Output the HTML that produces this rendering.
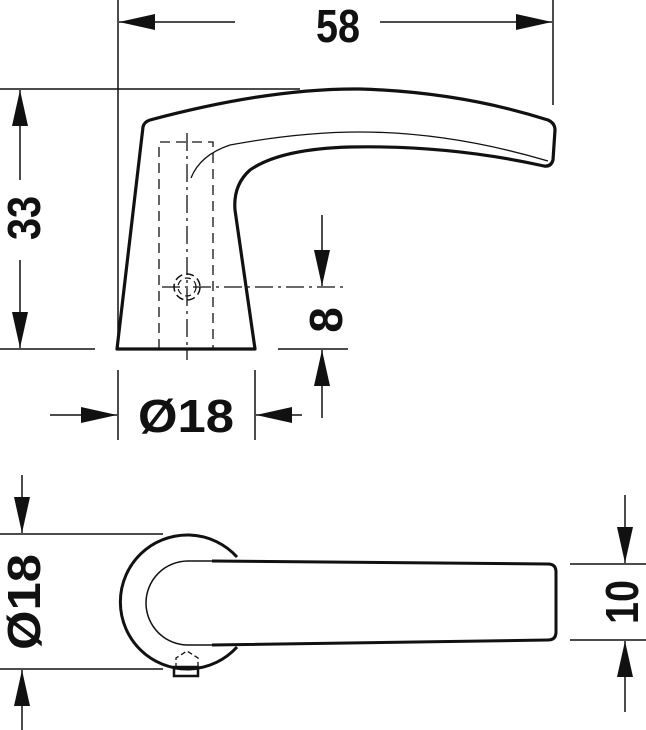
<!DOCTYPE html>
<html><head><meta charset="utf-8"><style>html,body{margin:0;padding:0;background:#fff}svg{display:block}</style></head><body>
<svg width="646" height="730" viewBox="0 0 646 730" xmlns="http://www.w3.org/2000/svg">
<defs>
<marker id="a" markerWidth="36" markerHeight="16" refX="36" refY="8" orient="auto" markerUnits="userSpaceOnUse"><path d="M0,0 L36,8 L0,16 Z" fill="#111"/></marker>
</defs>
<g fill="none" stroke="#111">
<!-- 58 dim -->
<line x1="118" y1="0" x2="118" y2="349" stroke-width="1.5"/>
<line x1="553" y1="0" x2="553" y2="105" stroke-width="1.5"/>
<line x1="235" y1="22" x2="119" y2="22" stroke-width="1.5" marker-end="url(#a)"/>
<line x1="380" y1="22" x2="552" y2="22" stroke-width="1.5" marker-end="url(#a)"/>
<!-- 33 dim -->
<line x1="0" y1="89" x2="300" y2="89" stroke-width="1.5"/>
<line x1="0" y1="349" x2="95" y2="349" stroke-width="1.5"/>
<line x1="20" y1="180" x2="20" y2="90" stroke-width="1.5" marker-end="url(#a)"/>
<line x1="20" y1="260" x2="20" y2="348" stroke-width="1.5" marker-end="url(#a)"/>
<!-- handle top view -->
<path d="M117,349 L143,127 Q144,122 150,120 Q270,88 360,89 Q460,92 548,120 Q555,123 555,130 L553,160 Q551,167 544,166 Q450,145 350,147 Q280,149 250,170 Q233,185 235,210 L255,349 Z" stroke-width="3.2" stroke-linejoin="round"/>
<path d="M191,178 Q200,155 230,145 Q300,132 360,132 Q450,132 548,161" stroke-width="1.3"/>
<path d="M159,349 V142 H213 V349" stroke-width="1.3" stroke-dasharray="10,6"/>
<line x1="187" y1="133" x2="187" y2="360" stroke-width="1.3" stroke-dasharray="18,5,3,5"/>
<line x1="162" y1="287" x2="348" y2="287" stroke-width="1.3" stroke-dasharray="18,5,3,5"/>
<circle cx="187" cy="287" r="13" stroke-width="1.5" stroke-dasharray="8,4"/>
<circle cx="187" cy="287" r="9" stroke-width="1.2" stroke-dasharray="6,4"/>
<!-- 8 dim -->
<line x1="278" y1="349" x2="348" y2="349" stroke-width="1.5"/>
<line x1="322" y1="215" x2="322" y2="286" stroke-width="1.5" marker-end="url(#a)"/>
<line x1="322" y1="418" x2="322" y2="350" stroke-width="1.5" marker-end="url(#a)"/>
<!-- Ø18 horiz -->
<line x1="118" y1="370" x2="118" y2="440" stroke-width="1.5"/>
<line x1="255" y1="370" x2="255" y2="440" stroke-width="1.5"/>
<line x1="50" y1="415" x2="117" y2="415" stroke-width="1.5" marker-end="url(#a)"/>
<line x1="302" y1="415" x2="256" y2="415" stroke-width="1.5" marker-end="url(#a)"/>
<!-- bottom view -->
<path d="M237,557 A67,67 0 1,0 237,647" stroke-width="3"/>
<path d="M212,561 L548,564 Q556,564 556,572 L556,632 Q556,640 548,640 L212,645" stroke-width="3"/>
<path d="M212,561 L188,561 A42,42 0 0,0 188,645 L212,645" stroke-width="1.5"/>
<path d="M176,668 V658 L187,651 L198,658 V668" stroke-width="1.3" stroke-dasharray="5,3"/>
<rect x="174" y="667" width="24" height="9" stroke-width="2.5"/>
<!-- Ø18 vert -->
<line x1="0" y1="534" x2="163" y2="534" stroke-width="1.5"/>
<line x1="0" y1="669" x2="163" y2="669" stroke-width="1.5"/>
<line x1="22" y1="475" x2="22" y2="533" stroke-width="1.5" marker-end="url(#a)"/>
<line x1="22" y1="730" x2="22" y2="670" stroke-width="1.5" marker-end="url(#a)"/>
<!-- 10 dim -->
<line x1="570" y1="564" x2="646" y2="564" stroke-width="1.5"/>
<line x1="570" y1="640" x2="646" y2="640" stroke-width="1.5"/>
<line x1="625" y1="495" x2="625" y2="563" stroke-width="1.5" marker-end="url(#a)"/>
<line x1="625" y1="712" x2="625" y2="641" stroke-width="1.5" marker-end="url(#a)"/>
</g>
<g fill="#111" font-family="'Liberation Sans Narrow','Liberation Sans',sans-serif" font-weight="bold" font-size="46">
<text x="338" y="42" text-anchor="middle" textLength="44" lengthAdjust="spacingAndGlyphs">58</text>
<text transform="translate(40,218) rotate(-90)" text-anchor="middle" textLength="44" lengthAdjust="spacingAndGlyphs">33</text>
<text transform="translate(342,320) rotate(-90)" text-anchor="middle">8</text>
<text x="186" y="432" text-anchor="middle" textLength="96" lengthAdjust="spacingAndGlyphs">Ø18</text>
<text transform="translate(40,602) rotate(-90)" text-anchor="middle" textLength="96" lengthAdjust="spacingAndGlyphs">Ø18</text>
<text transform="translate(638,602) rotate(-90)" text-anchor="middle" textLength="44" lengthAdjust="spacingAndGlyphs">10</text>
</g>
</svg>
</body></html>
